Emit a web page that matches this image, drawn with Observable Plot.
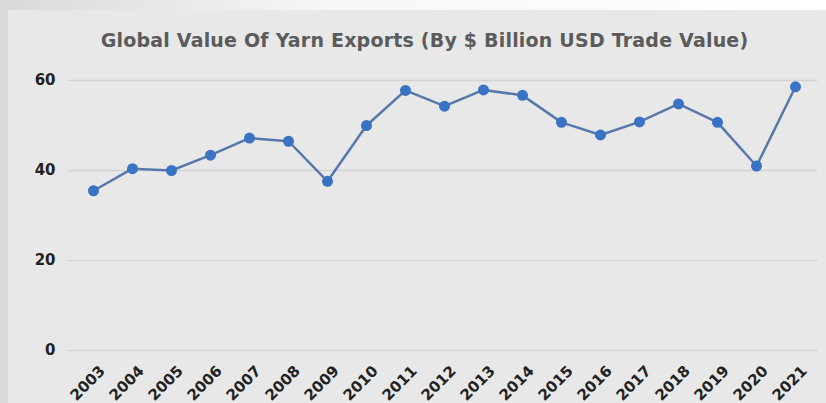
<!DOCTYPE html>
<html>
<head>
<meta charset="utf-8">
<script src="https://cdn.jsdelivr.net/npm/d3@7"></script>
<script src="https://cdn.jsdelivr.net/npm/@observablehq/plot@0.6"></script>
<style>
  html, body { margin: 0; padding: 0; }
  body { width: 826px; height: 403px; overflow: hidden;
         background: linear-gradient(90deg, #d9d9d9 0%, #f7f7f7 40%, #ffffff 100%); position: relative; }
  #panel { position: absolute; left: 8px; top: 10px; width: 818px; height: 393px; background: #e8e8e8; overflow: hidden; }
  #title { position: absolute; left: 0; width: 818px; top: 18px; text-align: center;
           font-family: "DejaVu Sans", sans-serif; font-weight: bold; font-size: 19px; color: #5b5b5b;
           padding-left: 15px; box-sizing: border-box; line-height: 24px; letter-spacing: 0.2px; }
  #chart { position: absolute; left: 0; top: 50px; }
</style>
</head>
<body>
<div id="panel">
  <div id="title">Global Value Of Yarn Exports (By $ Billion USD Trade Value)</div>
  <div id="chart"></div>
</div>
<script>
const years = ["2003","2004","2005","2006","2007","2008","2009","2010","2011","2012","2013","2014","2015","2016","2017","2018","2019","2020","2021"];
const values = [35.5, 40.4, 40.0, 43.4, 47.2, 46.5, 37.6, 50.0, 57.8, 54.3, 57.9, 56.7, 50.7, 47.9, 50.8, 54.8, 50.7, 41.0, 58.6];
const yTicks = [0, 20, 40, 60];

const data = years.map((y, i) => ({year: y, value: values[i]}));

const chart = Plot.plot({
  width: 818,
  height: 343,
  marginLeft: 60,
  marginRight: 9,
  marginTop: 20,
  marginBottom: 53,
  style: {background: "transparent", fontFamily: "DejaVu Sans", overflow: "visible"},
  x: {type: "point", domain: years, range: [81, 790], padding: 0, label: null},
  y: {domain: [0, 60], label: null},
  marks: [
    Plot.gridY(yTicks, {stroke: "#d2d2d2", strokeOpacity: 1, strokeWidth: 1.5}),
    Plot.axisY(yTicks, {tickSize: 0, tickPadding: 13, fontSize: 15, fontWeight: "bold", fill: "#222", label: null}),
    Plot.axisX({tickSize: 0, tickPadding: 18, tickRotate: -45, fontSize: 15, fontWeight: "bold", fill: "#222", label: null, dx: 9}),
    Plot.line(data, {x: "year", y: "value", stroke: "#5878ac", strokeWidth: 2.5}),
    Plot.dot(data, {x: "year", y: "value", r: 5.5, fill: "#3a72c4", stroke: "none"})
  ]
});
document.getElementById("chart").appendChild(chart);
</script>
</body>
</html>
